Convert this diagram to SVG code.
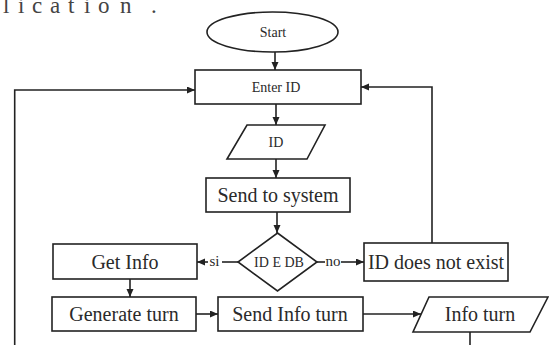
<svg xmlns="http://www.w3.org/2000/svg" width="549" height="345" viewBox="0 0 549 345">
<style>
.shape{fill:#fff;stroke:#222;stroke-width:1.6}
.line{fill:none;stroke:#222;stroke-width:1.6}
.t{font-family:"Liberation Serif","Times New Roman",serif;fill:#2a2a2a;text-anchor:middle}
.s{font-size:14px}
.b{font-size:20px}
.l{font-size:15px}
.top{font-family:"Liberation Serif","Times New Roman",serif;font-size:23px;fill:#444}
</style>
<defs>
<marker id="ah" markerUnits="userSpaceOnUse" markerWidth="9" markerHeight="8" refX="8" refY="3.5" orient="auto">
<path d="M0,0 L8,3.5 L0,7 z" fill="#222"/>
</marker>
</defs>
<rect width="549" height="345" fill="#fff"/>
<text class="top" x="3 18 32 50 68 84 98 120 151" y="13">lication.</text>
<g id="start"><ellipse class="shape" cx="272.5" cy="32" rx="65.5" ry="20"/><text class="t s" x="273" y="37">Start</text></g>
<g id="enter-id"><rect class="shape" x="195" y="70" width="166" height="34"/><text class="t s" x="276" y="92">Enter ID</text></g>
<g id="id-input"><polygon class="shape" points="247,125 325,125 307,159 227,159"/><text class="t s" x="276" y="147">ID</text></g>
<g id="send-system"><rect class="shape" x="206" y="178" width="144" height="34"/><text class="t b" x="278" y="202">Send to system</text></g>
<g id="decision"><polygon class="shape" points="277.5,233 317,262 277.5,291 238,262"/><text class="t s" x="279" y="267">ID E DB</text></g>
<g id="get-info"><rect class="shape" x="53" y="244" width="144" height="35"/><text class="t b" x="125" y="269">Get Info</text></g>
<g id="not-exist"><rect class="shape" x="364" y="243" width="144" height="38"/><text class="t b" x="436" y="269">ID does not exist</text></g>
<g id="generate"><rect class="shape" x="52" y="297" width="144" height="34"/><text class="t b" x="124" y="321">Generate turn</text></g>
<g id="send-info"><rect class="shape" x="218" y="297" width="145" height="34"/><text class="t b" x="290" y="321">Send Info turn</text></g>
<g id="info-turn"><polygon class="shape" points="429,297 548,297 530,332 413,332"/><text class="t b" x="480" y="321">Info turn</text></g>
<g id="connectors">
<path class="line" d="M275,52 V70" marker-end="url(#ah)"/>
<path class="line" d="M276,104 V125" marker-end="url(#ah)"/>
<path class="line" d="M276,159 V178" marker-end="url(#ah)"/>
<path class="line" d="M277,212 V233" marker-end="url(#ah)"/>
<path class="line" d="M238,262 H222"/>
<path class="line" d="M208,262 H197" marker-end="url(#ah)"/>
<text class="t l" x="214.5" y="266">si</text>
<path class="line" d="M317,262 H325"/>
<path class="line" d="M341,262 H364" marker-end="url(#ah)"/>
<text class="t l" x="333" y="266">no</text>
<path class="line" d="M432,243 V87 H361" marker-end="url(#ah)"/>
<path class="line" d="M130,279 V297" marker-end="url(#ah)"/>
<path class="line" d="M196,314 H218" marker-end="url(#ah)"/>
<path class="line" d="M363,314 H421" marker-end="url(#ah)"/>
<path class="line" d="M470,332 V345"/>
<path class="line" d="M14.7,345 V90 H195" marker-end="url(#ah)"/>
</g>
</svg>
